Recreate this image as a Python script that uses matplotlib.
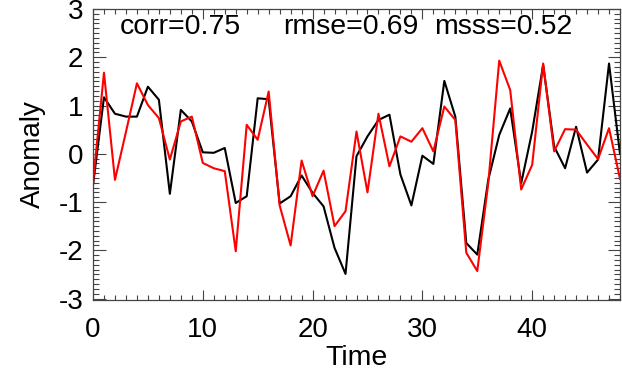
import numpy as np
import matplotlib
matplotlib.use("Agg")
import matplotlib.pyplot as plt
from matplotlib.ticker import MultipleLocator

plt.rcParams['font.family'] = ['Liberation Sans', 'DejaVu Sans']
plt.rcParams['axes.unicode_minus'] = False

# values
time = np.arange(49)
obs = [-0.65, 1.17, 0.83, 0.77, 0.77, 1.39, 1.12, -0.83, 0.91, 0.67,
       0.03, 0.02, 0.12, -1.02, -0.88, 1.15, 1.13, -1.03, -0.88, -0.45,
       -0.81, -1.09, -1.95, -2.49, -0.05, 0.36, 0.70, 0.81, -0.43, -1.07,
       -0.04, -0.21, 1.51, 0.77, -1.85, -2.09, -0.54, 0.39, 0.94, -0.61,
       0.46, 1.84, 0.15, -0.30, 0.56, -0.39, -0.12, 1.87, 0.00]
model = [-0.60, 1.68, -0.54, 0.45, 1.46, 1.01, 0.74, -0.12, 0.67, 0.77,
         -0.19, -0.30, -0.36, -2.02, 0.60, 0.29, 1.29, -1.07, -1.90, -0.14,
         -0.88, -0.35, -1.50, -1.19, 0.46, -0.80, 0.83, -0.26, 0.36, 0.25,
         0.53, 0.05, 0.98, 0.70, -2.05, -2.43, -0.61, 1.93, 1.32, -0.74,
         -0.23, 1.87, 0.05, 0.51, 0.50, 0.19, -0.11, 0.53, -0.52]
stats = ["corr=0.75", "rmse=0.69", "msss=0.52"]
stats_x = [0.051, 0.36, 0.647]

fig = plt.figure(figsize=(6.22, 3.73), dpi=100)
ax = fig.add_axes([93 / 622, 73 / 373, 527 / 622, 291 / 373])

ax.plot(time, obs, color='black', lw=1.5)
ax.plot(time, model, color='#ff0000', lw=1.5)

ax.set_xlim(0, 48)
ax.set_ylim(-3.03, 3.0)
ax.xaxis.set_major_locator(MultipleLocator(10))
ax.xaxis.set_minor_locator(MultipleLocator(1))
ax.yaxis.set_major_locator(MultipleLocator(1))
ax.yaxis.set_minor_locator(MultipleLocator(0.1))
ax.tick_params(which='both', direction='in', top=True, right=True,
               labelsize=20, width=0.8, color='#444444')
ax.tick_params(axis='x', which='major', length=7, pad=12)
ax.tick_params(axis='x', which='minor', length=3.5)
ax.tick_params(axis='y', which='major', length=9, pad=7)
ax.tick_params(axis='y', which='minor', length=4.5)
for s in ax.spines.values():
    s.set_linewidth(0.9)
    s.set_color('#444444')

ax.set_xlabel('Time', fontsize=20.5, labelpad=2)
ax.set_ylabel('Anomaly', fontsize=20, labelpad=9)

for label, xpos in zip(stats, stats_x):
    ax.text(xpos, 0.938, label, transform=ax.transAxes, fontsize=20.5,
            va='center', ha='left')

fig.savefig('out.png', dpi=100)
